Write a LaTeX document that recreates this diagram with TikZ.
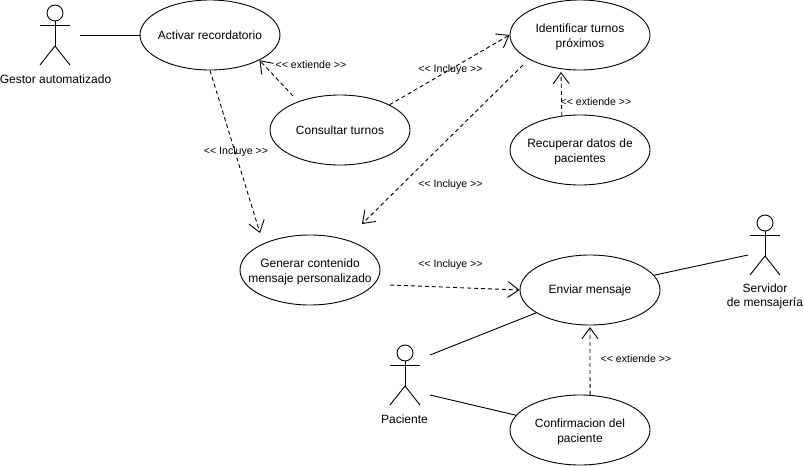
\documentclass[tikz,border=0pt]{standalone}
\usepackage{fontspec}
\setmainfont{Liberation Sans}
\usetikzlibrary{arrows.meta, shapes.geometric}
\newcommand{\firstline}{\rule{0pt}{12pt}}

\begin{document}
\begin{tikzpicture}[
  x=1pt, y=-1pt,
  usecase/.style={ellipse, draw=black, line width=0.9pt, minimum width=140pt, minimum height=70pt, inner xsep=-16pt, inner ysep=-6pt, align=center, font=\fontsize{12}{15}\selectfont},
  actorname/.style={align=center, font=\fontsize{12}{14.5}\selectfont},
  rel/.style={font=\fontsize{10.6}{12}\selectfont},
  assoc/.style={line width=0.9pt},
  dep/.style={-{Straight Barb[length=11pt, width=16pt, line width=0.9pt]}, dashed, dash pattern=on 4pt off 3pt, line width=0.9pt},
  pics/actor/.style={code={
    \draw[assoc] (0,8) circle (8);
    \draw[assoc] (0,16) -- (0,41);
    \draw[assoc] (-15,20) -- (15,20);
    \draw[assoc] (-15,60) -- (0,41) -- (15,60);
  }}
]
\useasboundingbox (0,0) rectangle (804,466);

% casos de uso
\node[usecase] (activar) at (210,35) {Activar recordatorio};
\node[usecase] (consultar) at (340,130) {Consultar turnos};
\node[usecase] (identificar) at (580,35) {\firstline Identificar turnos\\próximos};
\node[usecase] (recuperar) at (580,150) {\firstline Recuperar datos de\\pacientes};
\node[usecase] (generar) at (310,270) {\firstline Generar contenido\\mensaje personalizado};
\node[usecase] (enviar) at (590,290) {Enviar mensaje};
\node[usecase] (confirmacion) at (580,430) {\firstline Confirmacion del\\paciente};

% actores
\pic at (55,5) {actor};
\pic at (765,215) {actor};
\pic at (405,345) {actor};
\node[actorname] (gestor) at (55.5,79) {Gestor automatizado};
\node[actorname] (servidor) at (765,296.5) {Servidor\\de mensajería};
\node[actorname] (paciente) at (404.5,419) {Paciente};

% extremos libres
\coordinate (gestorout) at (80,35);
\coordinate (servidorout) at (748,255);
\coordinate (pacienteup) at (430,355);
\coordinate (pacientedown) at (430,395);
\coordinate (consultarout) at (293,96);
\coordinate (generartop) at (260,233);
\coordinate (identificarout) at (523,65);
\coordinate (generarright) at (362,224);
\coordinate (identificarbot) at (561,72);
\coordinate (generarout) at (390,285);
\coordinate (enviarbot) at (590,327);

\draw[assoc] (gestorout) -- (activar.west);
\draw[assoc] (servidorout) -- (enviar.13);
\draw[assoc] (pacienteup) -- (enviar.203);
\draw[assoc] (pacientedown) -- (confirmacion.167);

\draw[dep] (consultarout) -- (activar.-27);
\draw[dep] (activar.south) -- (generartop);
\draw[dep] (consultar.27) -- (identificar.west);
\draw[dep] (identificarout) -- (generarright);
\draw[dep] (recuperar.118) -- (identificarbot);
\draw[dep] (generarout) -- (enviar.west);
\draw[dep] (confirmacion.74) -- (enviarbot);

% etiquetas
\node[rel] (ext1) at (311,65) {<{}< extiende >{}>};
\node[rel] (inc1) at (236,152) {<{}< Incluye >{}>};
\node[rel] (inc2) at (450.5,70) {<{}< Incluye >{}>};
\node[rel] (inc3) at (450.5,185) {<{}< Incluye >{}>};
\node[rel] (ext2) at (596,102) {<{}< extiende >{}>};
\node[rel] (inc4) at (450.5,265) {<{}< Incluye >{}>};
\node[rel] (ext3) at (636,359) {<{}< extiende >{}>};
\end{tikzpicture}
\end{document}
